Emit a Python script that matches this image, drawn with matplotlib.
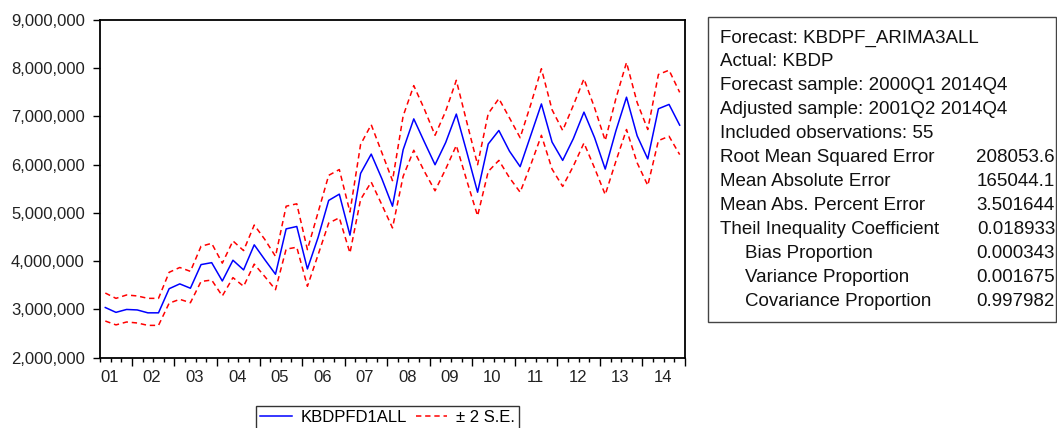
import matplotlib
matplotlib.use("Agg")
import matplotlib.pyplot as plt
from matplotlib.patches import Rectangle
from matplotlib.ticker import FuncFormatter, FixedLocator
import numpy as np

plt.rcParams['font.family'] = ['Liberation Sans', 'DejaVu Sans']

# Quarterly observations 2001Q2 .. 2014Q4 (55 obs)
forecast = [3.04, 2.94, 3.00, 2.99, 2.93, 2.93, 3.43, 3.53, 3.44, 3.93,
            3.97, 3.59, 4.02, 3.82, 4.34, 4.03, 3.73, 4.67, 4.72, 3.84,
            4.49, 5.26, 5.39, 4.54, 5.82, 6.22, 5.71, 5.14, 6.31, 6.95,
            6.47, 6.00, 6.46, 7.05, 6.25, 5.43, 6.43, 6.71, 6.28, 5.96,
            6.61, 7.26, 6.47, 6.09, 6.54, 7.09, 6.56, 5.91, 6.70, 7.40,
            6.60, 6.12, 7.16, 7.25, 6.82]
upper = [3.34, 3.23, 3.30, 3.28, 3.23, 3.23, 3.77, 3.87, 3.79, 4.31,
         4.37, 3.96, 4.42, 4.22, 4.75, 4.45, 4.10, 5.14, 5.19, 4.24,
         5.01, 5.78, 5.90, 5.02, 6.42, 6.83, 6.25, 5.67, 7.01, 7.64,
         7.15, 6.61, 7.11, 7.75, 6.87, 6.00, 7.06, 7.37, 6.97, 6.56,
         7.25, 7.99, 7.14, 6.71, 7.23, 7.78, 7.18, 6.50, 7.37, 8.12,
         7.29, 6.73, 7.87, 7.96, 7.50]
lower = [2.76, 2.68, 2.74, 2.72, 2.67, 2.67, 3.13, 3.21, 3.14, 3.58,
         3.61, 3.28, 3.66, 3.48, 3.94, 3.68, 3.41, 4.25, 4.29, 3.48,
         4.13, 4.79, 4.90, 4.17, 5.28, 5.64, 5.17, 4.69, 5.76, 6.30,
         5.86, 5.46, 5.91, 6.40, 5.66, 4.94, 5.86, 6.09, 5.73, 5.43,
         6.00, 6.61, 5.91, 5.55, 5.97, 6.45, 5.93, 5.38, 6.07, 6.73,
         6.04, 5.57, 6.50, 6.59, 6.21]
year_labels = ['01', '02', '03', '04', '05', '06', '07', '08', '09', '10',
               '11', '12', '13', '14']

stat_labels = ["Forecast: KBDPF_ARIMA3ALL", "Actual: KBDP",
               "Forecast sample: 2000Q1 2014Q4",
               "Adjusted sample: 2001Q2 2014Q4",
               "Included observations: 55",
               "Root Mean Squared Error", "Mean Absolute Error",
               "Mean Abs. Percent Error", "Theil Inequality Coefficient",
               "Bias Proportion", "Variance Proportion",
               "Covariance Proportion"]
stat_indent = [False] * 9 + [True] * 3
stat_values = ["", "", "", "", "", "208053.6", "165044.1", "3.501644",
               "0.018933", "0.000343", "0.001675", "0.997982"]

W, H = 1057, 428
fig = plt.figure(figsize=(W / 100, H / 100), dpi=100)
ax = fig.add_axes([100 / W, 1 - 357.7 / H, (685 - 100) / W, (357.7 - 20) / H])

x = np.arange(len(forecast))
scale = 1e6
ax.plot(x, np.array(forecast) * scale, color='#0000ff', lw=1.1, label='KBDPFD1ALL')
ax.plot(x, np.array(upper) * scale, color='#ff0000', lw=1.1, ls=(0, (3.5, 2.5)), label='± 2 S.E.')
ax.plot(x, np.array(lower) * scale, color='#ff0000', lw=1.1, ls=(0, (3.5, 2.5)))

ax.set_xlim(-0.5, 54.5)
ax.set_ylim(2e6, 9e6)
ax.set_yticks(np.arange(2e6, 9.01e6, 1e6))
ax.yaxis.set_major_formatter(FuncFormatter(lambda v, p: f"{int(round(v)):,}"))

major = np.arange(2.5, 54.6, 4)
minor = np.arange(-0.5, 54.6, 1)
ax.xaxis.set_major_locator(FixedLocator(major))
ax.xaxis.set_minor_locator(FixedLocator(minor))
ax.set_xticklabels([])
for k, lab in enumerate(year_labels):
    ax.text(0.4 + 4 * k, -0.035, lab, transform=ax.get_xaxis_transform(),
            ha='center', va='top', fontsize=12, color='#222222')

ax.tick_params(axis='x', which='major', direction='out', length=6, width=1)
ax.tick_params(axis='x', which='minor', direction='out', length=3, width=1)
ax.tick_params(axis='y', direction='out', length=5, width=1, labelsize=12,
               labelcolor='#222222', pad=6)
for s in ax.spines.values():
    s.set_linewidth(1.3)
    s.set_color('black')

# Legend
fig.legend(loc='upper left', bbox_to_anchor=(256 / W, 1 - 406 / H), ncol=2,
           frameon=True, fancybox=False, edgecolor='black', fontsize=12,
           handlelength=1.9, handletextpad=0.5, columnspacing=0.55,
           borderpad=0.25, borderaxespad=0)

# Statistics box
fig.patches.append(Rectangle((708 / W, 1 - 322 / H), (1056 - 708) / W, (322 - 17) / H,
                             transform=fig.transFigure, fill=False,
                             edgecolor='#444444', lw=1.0))
y0 = 38
for i, (lab, ind, val) in enumerate(zip(stat_labels, stat_indent, stat_values)):
    yy = 1 - (y0 + 24 * i) / H
    xx = 745 if ind else 720
    fig.text(xx / W, yy, lab, ha='left', va='center', fontsize=13.5, color='#111111')
    if val:
        fig.text(1055 / W, yy, val, ha='right', va='center', fontsize=13.5, color='#111111')

fig.savefig('out.png', dpi=100)
